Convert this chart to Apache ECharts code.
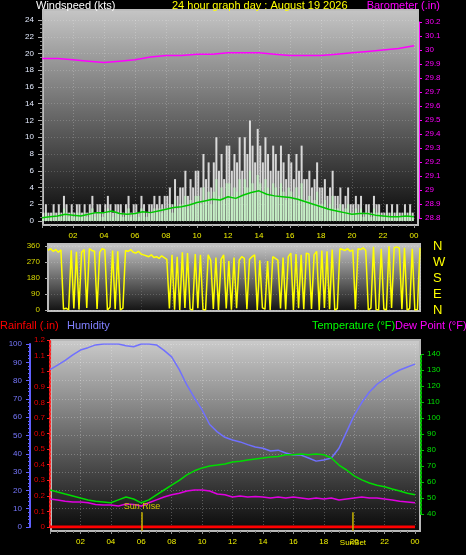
<!DOCTYPE html>
<html><head><meta charset="utf-8">
<script src="https://cdn.jsdelivr.net/npm/echarts@6/dist/echarts.min.js"></script>
<style>html,body{margin:0;padding:0;background:#000;}#c{width:466px;height:555px;}</style>
</head><body><div id="c"></div>
<script>
// ---- DATA ----
const titleText = '24 hour graph day : August 19 2026';
// wind, 10-minute samples (kts)
const windGust = [1,2,1,1,2,1, 2,1,3,2,1,2, 1,2,2,1,2,1, 2,3,1,2,2,1, 2,3,2,1,2,2, 2,1,2,3,1,2,
 2,1,3,2,1,2, 2,3,2,3,2,3, 3,4,2,5,3,4, 4,6,3,5,4,6, 6,4,8,5,7,4, 7,10,6,8,5,9,
 9,6,8,7,10,6, 10,8,12,9,7,11, 9,7,10,8,6,9, 8,6,9,7,5,8, 7,5,8,6,9,5, 5,6,4,5,7,4,
 4,5,3,4,6,3, 3,4,2,3,4,2, 2,3,2,3,1,2, 2,1,3,2,2,1, 1,2,1,2,1,2, 1,1,2,1,2,1];
const windSpeed = [0.5,1,0.5,0.5,1,0.5, 1,0.5,1.5,1,0.5,1, 0.5,1,1,0.5,1,0.5, 1,1.5,0.5,1,1,0.5, 1,1.5,1,0.5,1,1, 1,0.5,1,1.5,0.5,1,
 1,0.5,1.5,1,0.5,1, 1,1.5,1,1.5,1,1.5, 1.5,2,1,2.5,1.5,2, 2,3,1.5,2.5,2,3, 3,2,4,2.5,3.5,2, 3.5,5,3,4,2.5,4.5,
 4.5,3,4,3.5,5,3, 5,4,6,4.5,3.5,5.5, 4.5,3.5,5,4,3,4.5, 4,3,4.5,3.5,2.5,4, 3.5,2.5,4,3,4.5,2.5, 2.5,3,2,2.5,3.5,2,
 2,2.5,1.5,2,3,1.5, 1.5,2,1,1.5,2,1, 1,1.5,1,1.5,0.5,1, 1,0.5,1.5,1,1,0.5, 0.5,1,0.5,1,0.5,1, 0.5,0.5,1,0.5,1,0.5];
// average wind, 30-minute samples
const windAvg = [0.4,0.5,0.6,0.8,0.7,0.6,0.8,1.0,1.0,1.2,0.9,0.8,0.9,1.1,1.0,1.2,1.4,1.6,1.7,1.9,2.2,2.4,2.6,2.5,2.9,2.7,3.1,3.4,3.6,3.2,3.0,2.9,2.8,2.6,2.3,2.0,1.7,1.4,1.2,1.0,0.8,0.9,0.9,0.7,0.6,0.5,0.5,0.6,0.5];
// barometer, hourly (.in)
const barometer = [29.94,29.94,29.93,29.92,29.91,29.92,29.93,29.95,29.96,29.96,29.97,29.97,29.98,29.98,29.98,29.97,29.96,29.96,29.96,29.97,29.98,29.99,30.00,30.01,30.03];
// wind direction, 10-minute samples (deg)
const windDir = [335,345,330,340,325,338,5,10,0,336,8,328,3,325,340,12,345,335,330,6,325,345,338,0,15,335,4,330,0,10,
 335,330,340,325,320,330,315,310,305,300,310,295,300,290,305,295,285,8,310,2,300,0,325,12,320,5,0,315,10,310,
 3,0,310,280,6,295,0,285,310,8,275,2,295,10,280,300,290,4,285,300,310,0,280,12,5,275,0,300,290,280,
 8,295,3,300,320,0,315,10,310,4,320,315,6,310,330,0,335,12,330,5,340,0,8,345,340,335,345,330,338,4,
 345,340,350,335,0,10,355,3,0,345,6,0,358,12,350,355,348,5,350,0,8,345,0,3,350];
// half-hourly samples
const humidity = [86,88.5,91,94,96.7,98,99.5,100,100,100,99,98.5,100,100,99.5,96.5,93,86,77.6,70.5,64,56,52,49,47.5,46.5,45,43.7,43,41.5,42,40.4,39.3,39.3,37.7,36,36.6,37.7,43,52,61,68,73.8,78,81,83.6,85.8,87.4,89];
const temperature = [55,53.8,52.5,51.3,50,48.8,48,47.5,47,48.8,50.6,49.4,47,48.8,52,55,58,61,64.4,67,68.8,70,70.6,71.3,72.5,73,73.8,74.4,75,75.6,76,77,77,77.5,77,77.5,77,75,70.6,67.5,63.8,61.3,59.4,58,57,55.6,54.4,53,52];
const dewPoint = [49.4,48.8,48,47.5,47.5,47,46,45.6,45.6,45,46.3,46,45,47,48.8,50.6,52,53,54.4,55,55,54.4,52.5,52,50.6,51.3,50.6,51,50.6,50,50.6,50,50.6,50,49.4,50,49.4,50,48.8,49.4,50,50.6,50,50,49.4,48.8,48,47.5,47];
// rainfall, hourly
const rainfall = [0,0,0,0,0,0,0,0,0,0,0,0,0,0,0,0,0,0,0,0,0,0,0,0,0];
const sunTimes = [6.05, 19.92];
const sunLabels = ['Sun Rise', 'SunSet'];
const compassLabels = {0:'N', 90:'E', 180:'S', 270:'W', 360:'N'};

// ---- helpers ----
const FONT = 'Liberation Sans';
const pair = (arr, step, off) => arr.map((v, i) => [i * step + (off || 0), v]);
const hourFmt = v => v === 0 ? '' : String(v % 24).padStart(2, '0');
const dotted = c => ({show: true, lineStyle: {color: c, type: [1, 2], width: 1}});
const grad = (a, b) => ({type: 'linear', x: 0, y: 0, x2: 0, y2: 1, colorStops: [{offset: 0, color: a}, {offset: 1, color: b}]});
const hidX = g => ({type: 'value', gridIndex: g, min: 0, max: 24, show: false});
const hidY = g => ({type: 'value', gridIndex: g, min: 0, max: 1, show: false});
const lbl = (c, extra) => Object.assign({color: c, fontSize: 8, fontFamily: FONT}, extra || {});
const axLine = (color, extra) => ({show: true, onZero: false, lineStyle: Object.assign({color}, extra || {})});
const line = (x, y, data, color, w) => ({type: 'line', xAxisIndex: x, yAxisIndex: y, data, showSymbol: false, symbol: 'none', lineStyle: {color, width: w || 1.5}, itemStyle: {color}, animation: false, z: 5});

const chart = echarts.init(document.getElementById('c'), null, {renderer: 'canvas'});
const ttl = (text, color, pos) => Object.assign({text, textStyle: {color, fontSize: 11, fontWeight: 'normal', fontFamily: FONT}, padding: 0}, pos);

const option = {
  backgroundColor: '#000',
  animation: false,
  title: [
    ttl('Windspeed (kts)', '#ffffff', {left: 36, top: 0}),
    ttl(titleText, '#ffff00', {left: 172, top: 0}),
    ttl('Barometer (.in)', '#ff00ff', {right: 26, top: 0}),
    ttl('Rainfall (.in)', '#ff0000', {left: 0, top: 320}),
    ttl('Humidity', '#8080ff', {left: 67, top: 320}),
    ttl('Temperature (°F)', '#00ff00', {left: 312, top: 320}),
    ttl('Dew Point (°F)', '#ff00ff', {left: 395, top: 320})
  ],
  grid: [
    {left: 43, top: 10, width: 375, height: 215, show: true, backgroundColor: grad('#c6c6c6', '#060606'), borderColor: '#bdbdbd', borderWidth: 2, z: 0},
    {left: 42, top: 20, width: 372, height: 201},
    {left: 42, top: 22, width: 372, height: 196},
    {left: 48, top: 244, width: 372, height: 67, show: true, backgroundColor: grad('#cacaca', '#101010'), borderColor: '#bdbdbd', borderWidth: 2, z: 0},
    {left: 48, top: 246, width: 372, height: 64},
    {left: 51, top: 340, width: 369, height: 191, show: true, backgroundColor: grad('#cccccc', '#080808'), borderColor: '#b8b8b8', borderWidth: 2, z: 0},
    {left: 50, top: 344, width: 365, height: 183},
    {left: 50, top: 340, width: 365, height: 187},
    {left: 50, top: 354, width: 365, height: 160}
  ],
  xAxis: [
    hidX(0),
    {type: 'value', gridIndex: 1, min: 0, max: 24, interval: 2, position: 'bottom', offset: 4,
      axisLine: {show: false, onZero: false}, axisTick: {show: true, length: 3, lineStyle: {color: '#999'}},
      minorTick: {show: true, splitNumber: 4, length: 2, lineStyle: {color: '#777'}},
      axisLabel: lbl('#f0f000', {margin: 7, formatter: hourFmt}),
      splitLine: dotted('rgba(255,255,255,0.22)'), minorSplitLine: {show: false}},
    hidX(2), hidX(3),
    {type: 'value', gridIndex: 4, min: 0, max: 24, interval: 2, axisLine: {show: false, onZero: false}, axisTick: {show: false}, axisLabel: {show: false},
      splitLine: dotted('rgba(255,255,255,0.15)')},
    hidX(5),
    {type: 'value', gridIndex: 6, min: 0, max: 24, interval: 2, position: 'bottom', offset: 4,
      axisLine: {show: false, onZero: false}, axisTick: {show: true, length: 3, lineStyle: {color: '#999'}},
      minorTick: {show: true, splitNumber: 4, length: 2, lineStyle: {color: '#777'}},
      axisLabel: lbl('#f0f000', {margin: 7, formatter: hourFmt}),
      splitLine: dotted('rgba(255,255,255,0.25)')},
    hidX(7), hidX(8)
  ],
  yAxis: [
    hidY(0),
    {type: 'value', gridIndex: 1, min: 0, max: 24, interval: 2, position: 'left',
      axisLine: axLine('#9a9a9a'), axisTick: {show: true, length: 4, lineStyle: {color: '#aaa'}},
      minorTick: {show: true, splitNumber: 4, length: 2, lineStyle: {color: '#888'}},
      axisLabel: lbl('#e4ecff', {margin: 8}), splitLine: dotted('rgba(255,255,255,0.18)')},
    {type: 'value', gridIndex: 2, min: 28.8, max: 30.2, interval: 0.1, position: 'right', offset: 5,
      axisLine: axLine('#ff00ff'), axisTick: {show: true, length: 3, lineStyle: {color: '#ff00ff'}},
      minorTick: {show: true, splitNumber: 4, length: 1, lineStyle: {color: '#ff00ff'}},
      axisLabel: lbl('#ff00ff', {margin: 6}), splitLine: {show: false}},
    hidY(3),
    {type: 'value', gridIndex: 4, min: 0, max: 360, interval: 90, position: 'left',
      axisLine: axLine('#bbb'), axisTick: {show: true, length: 3, lineStyle: {color: '#aaa'}},
      axisLabel: lbl('#d8d800', {margin: 8}), splitLine: dotted('rgba(255,255,255,0.18)')},
    {type: 'value', gridIndex: 4, min: 0, max: 360, interval: 90, position: 'right',
      axisLine: {show: false, onZero: false}, axisTick: {show: false}, splitLine: {show: false},
      axisLabel: {color: '#ffff00', fontSize: 13, fontFamily: FONT, margin: 13, formatter: v => compassLabels[v] || ''}},
    hidY(5),
    {type: 'value', gridIndex: 6, min: 0, max: 100, interval: 10, position: 'left', offset: 20,
      axisLine: axLine('#6060ff', {width: 2}), axisTick: {show: true, length: 4, lineStyle: {color: '#6060ff'}},
      minorTick: {show: true, splitNumber: 5, length: 2, lineStyle: {color: '#6060ff'}},
      axisLabel: lbl('#7878ff', {margin: 8}), splitLine: dotted('rgba(255,255,255,0.25)')},
    {type: 'value', gridIndex: 7, min: 0, max: 1.2, interval: 0.1, position: 'left',
      axisLine: axLine('#ff2020', {width: 2, type: [2, 2]}), axisTick: {show: true, length: 3, lineStyle: {color: '#ff2020'}},
      axisLabel: lbl('#e80000', {margin: 5}), splitLine: {show: false}},
    {type: 'value', gridIndex: 8, min: 40, max: 140, interval: 10, position: 'right', offset: 6,
      axisLine: axLine('#00c000', {width: 2, type: [2, 2]}), axisTick: {show: true, length: 3, lineStyle: {color: '#00c000'}},
      axisLabel: lbl('#00e000', {margin: 6}), splitLine: {show: false}}
  ],
  series: [
    {type: 'bar', xAxisIndex: 1, yAxisIndex: 1, data: pair(windGust, 1 / 6, 1 / 12), barWidth: 2, barGap: '-100%',
      itemStyle: {color: 'rgba(238,238,238,0.88)'}, z: 2},
    {type: 'bar', xAxisIndex: 1, yAxisIndex: 1, data: pair(windSpeed, 1 / 6, 1 / 12), barWidth: 2, barGap: '-100%',
      itemStyle: {color: 'rgba(195,240,195,0.95)'}, z: 3},
    line(1, 1, pair(windAvg, 0.5), '#00c800', 1.5),
    line(2, 2, pair(barometer, 1), '#ff00ff', 1.5),
    line(4, 4, pair(windDir, 1 / 6), '#ffff00', 1.5),
    line(6, 7, pair(humidity, 0.5), '#7070ff', 1.5),
    line(7, 8, pair(rainfall, 1), '#ff0000', 3),
    line(8, 9, pair(temperature, 0.5), '#00dd00', 1.5),
    line(8, 9, pair(dewPoint, 0.5), '#e000e0', 1.5),
    {type: 'line', xAxisIndex: 6, yAxisIndex: 7, clip: false, symbol: 'circle', symbolSize: 0, showSymbol: true,
      lineStyle: {color: '#c8b400', width: 1.5}, z: 6,
      data: [{value: [sunTimes[0], -2]}, {value: [sunTimes[0], 8], label: {show: true, position: 'top', distance: 1, formatter: sunLabels[0], color: '#d4c400', fontSize: 9, fontFamily: FONT}}]},
    {type: 'line', xAxisIndex: 6, yAxisIndex: 7, clip: false, symbol: 'circle', symbolSize: 0, showSymbol: true,
      lineStyle: {color: '#c8b400', width: 1.5}, z: 6,
      data: [{value: [sunTimes[1], -2], label: {show: true, position: 'bottom', distance: 8, formatter: sunLabels[1], color: '#f0f000', fontSize: 8, fontFamily: FONT}}, {value: [sunTimes[1], 8]}]}
  ]
};
chart.setOption(option);
</script>
</body></html>
